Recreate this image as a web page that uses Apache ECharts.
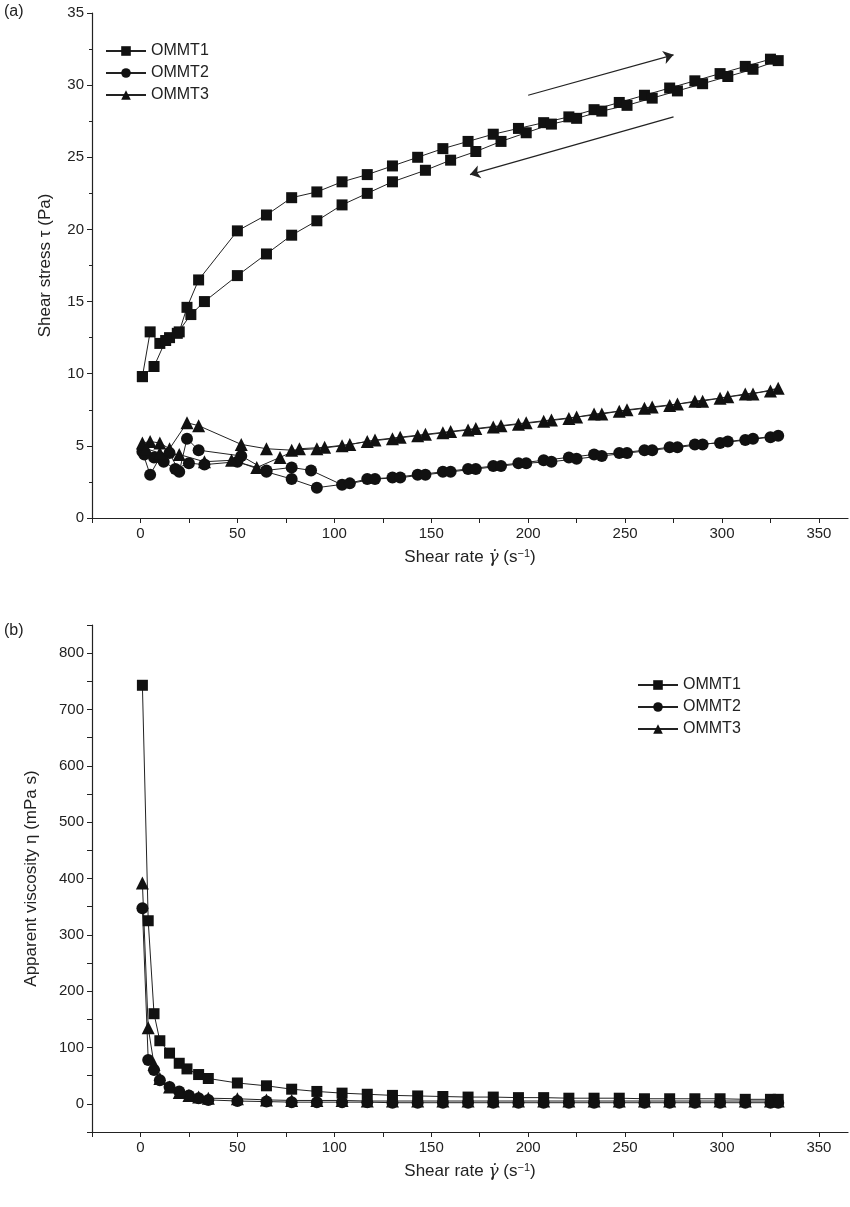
<!DOCTYPE html>
<html>
<head>
<meta charset="utf-8" />
<title></title>
<script src="https://cdn.jsdelivr.net/npm/echarts@6/dist/echarts.min.js"></script>
</head>
<body style="margin:0">
<div id="chart" style="width:850px;height:1207px;"></div>
<script>
var names = ['OMMT1', 'OMMT2', 'OMMT3'];
var symbols = ['rect', 'circle', 'triangle'];

// (a) shear stress, up sweep then down sweep
var stress1 = [[1,9.8],[5,12.9],[10,12.1],[15,12.5],[20,12.9],[24,14.6],[30,16.5],[50,19.9],[65,21],[78,22.2],[91,22.6],[104,23.3],[117,23.8],[130,24.4],[143,25],[156,25.6],[169,26.1],[182,26.6],[195,27],[208,27.4],[221,27.8],[234,28.3],[247,28.8],[260,29.3],[273,29.8],[286,30.3],[299,30.8],[312,31.3],[325,31.8],[329,31.7],
  [316,31.1],[303,30.6],[290,30.1],[277,29.6],[264,29.1],[251,28.6],[238,28.2],[225,27.7],[212,27.3],[199,26.7],[186,26.1],[173,25.4],[160,24.8],[147,24.1],[130,23.3],[117,22.5],[104,21.7],[91,20.6],[78,19.6],[65,18.3],[50,16.8],[33,15],[26,14.1],[19,12.8],[13,12.3],[7,10.5],[1,9.8]];
var stress2 = [[1,4.6],[5,3],[10,4.2],[15,4.5],[20,3.2],[24,5.5],[30,4.7],[52,4.3],[65,3.3],[78,3.5],[88,3.3],[104,2.3],[117,2.7],[130,2.8],[143,3],[156,3.2],[169,3.4],[182,3.6],[195,3.8],[208,4],[221,4.2],[234,4.4],[247,4.5],[260,4.7],[273,4.9],[286,5.1],[299,5.2],[312,5.4],[325,5.6],[329,5.7],
  [316,5.5],[303,5.3],[290,5.1],[277,4.9],[264,4.7],[251,4.5],[238,4.3],[225,4.1],[212,3.9],[199,3.8],[186,3.6],[173,3.4],[160,3.2],[147,3],[134,2.8],[121,2.7],[108,2.4],[91,2.1],[78,2.7],[65,3.2],[50,3.9],[33,3.7],[25,3.8],[18,3.4],[12,3.9],[7,4.2],[2,4.4]];
var stress3 = [[1,5.2],[5,5.3],[10,5.2],[15,4.8],[24,6.6],[30,6.4],[52,5.1],[65,4.8],[78,4.7],[91,4.8],[104,5],[117,5.3],[130,5.5],[143,5.7],[156,5.9],[169,6.1],[182,6.3],[195,6.5],[208,6.7],[221,6.9],[234,7.2],[247,7.4],[260,7.6],[273,7.8],[286,8.1],[299,8.3],[312,8.6],[325,8.8],[329,9],
  [316,8.6],[303,8.4],[290,8.1],[277,7.9],[264,7.7],[251,7.5],[238,7.2],[225,7],[212,6.8],[199,6.6],[186,6.4],[173,6.2],[160,6],[147,5.8],[134,5.6],[121,5.4],[108,5.1],[95,4.9],[82,4.8],[72,4.2],[60,3.5],[47,4],[33,3.9],[20,4.4],[10,4.5],[3,4.8]];

// (b) apparent viscosity
var visc1 = [[1,743],[4,325],[7,160],[10,112],[15,90],[20,72],[24,62],[30,52],[35,45],[50,37],[65,32],[78,26],[91,22],[104,19],[117,17],[130,15],[143,14],[156,13],[169,12],[182,12],[195,11],[208,11],[221,10],[234,10],[247,10],[260,9],[273,9],[286,9],[299,9],[312,8],[325,8],[329,8]];
var visc2 = [[1,347],[4,78],[7,60],[10,42],[15,30],[20,22],[25,15],[30,10],[35,7],[50,5],[65,4],[78,3],[91,3],[104,3],[117,3],[130,2],[143,2],[156,2],[169,2],[182,2],[195,2],[208,2],[221,2],[234,2],[247,2],[260,2],[273,2],[286,2],[299,2],[312,2],[325,2],[329,2]];
var visc3 = [[1,392],[4,135],[7,70],[10,45],[15,30],[20,20],[25,15],[30,12],[35,10],[50,9],[65,7],[78,6],[91,6],[104,6],[117,5],[130,5],[143,5],[156,5],[169,5],[182,5],[195,5],[208,5],[221,5],[234,5],[247,5],[260,5],[273,5],[286,5],[299,5],[312,5],[325,5],[329,5]];

var arrows = [[[200,29.3],[275,32.1]],[[275,27.8],[170,23.8]]];

var font = 'Liberation Sans, Arial, sans-serif';
var chart = echarts.init(document.getElementById('chart'));

function xAx(idx) {
  return {
    gridIndex: idx, type: 'value', min: -25, max: 365, interval: 25,
    name: '{n|Shear rate }{g|γ̇}{n| (s}{s|−1}{n|)}', nameLocation: 'middle', nameGap: 30,
    nameTextStyle: { rich: { n: {fontSize: 17, color: '#222', fontFamily: font}, g: {fontSize: 17, fontStyle: 'italic', color: '#222', fontFamily: 'DejaVu Serif'}, s: {fontSize: 11, verticalAlign: 'top', color: '#222', padding: [0,0,8,0]} } },
    axisLine: { onZero: false, lineStyle: { color: '#222', width: 1.2 } },
    axisTick: { inside: false, length: 5, lineStyle: { color: '#222' } },
    axisLabel: { fontSize: 15, color: '#222', fontFamily: font, showMaxLabel: false,
      formatter: function (v) { return (v < 0 || v % 50 !== 0) ? '' : v; } },
    splitLine: { show: false }
  };
}
function yAx(idx, min, max, interval, step, top, name) {
  return {
    gridIndex: idx, type: 'value', min: min, max: max, interval: interval,
    name: name, nameLocation: 'middle', nameGap: idx === 0 ? 38 : 52,
    nameTextStyle: { fontSize: 17, color: '#222', fontFamily: font },
    axisLine: { show: true, onZero: false, lineStyle: { color: '#222', width: 1.2 } },
    axisTick: { inside: false, length: 5, lineStyle: { color: '#222' } },
    minorTick: { show: idx === 0, splitNumber: 2, length: 3, lineStyle: { color: '#222' } },
    axisLabel: { fontSize: 15, color: '#222', fontFamily: font,
      formatter: function (v) { return (v < 0 || v > top || v % step !== 0) ? '' : v; } },
    splitLine: { show: false }
  };
}
function ser(name, sym, data, xi, size) {
  return {
    name: name, type: 'line', xAxisIndex: xi, yAxisIndex: xi, data: data,
    symbol: sym, symbolSize: size, showSymbol: true,
    itemStyle: { color: '#111' }, lineStyle: { color: '#222', width: 1 }
  };
}
var stress = [stress1, stress2, stress3];
var visc = [visc1, visc2, visc3];
var sizes = [11, 12, 13];
var series = [];
for (var i = 0; i < 3; i++) series.push(ser(names[i], symbols[i], stress[i], 0, sizes[i]));
for (var i = 0; i < 3; i++) series.push(ser(names[i], symbols[i], visc[i], 1, sizes[i]));
series.push({
  type: 'line', xAxisIndex: 0, yAxisIndex: 0, data: [], silent: true,
  markLine: {
    symbol: ['none', 'arrow'], symbolSize: 10, label: { show: false },
    lineStyle: { color: '#222', width: 1.2, type: 'solid' },
    data: arrows.map(function (a) { return [{ coord: a[0] }, { coord: a[1] }]; })
  }
});

chart.setOption({
  animation: false,
  backgroundColor: '#fff',
  graphic: [
    { type: 'text', left: 4, top: 4, style: { text: '(a)', fontSize: 16, fill: '#222', fontFamily: font } },
    { type: 'text', left: 4, top: 623, style: { text: '(b)', fontSize: 16, fill: '#222', fontFamily: font } }
  ],
  legend: [
    { data: names, left: 100, top: 38, orient: 'vertical', itemGap: 6, itemWidth: 40, itemHeight: 12,
      textStyle: { fontSize: 16, color: '#222', fontFamily: font } },
    { data: names, left: 632, top: 672, orient: 'vertical', itemGap: 6, itemWidth: 40, itemHeight: 12,
      textStyle: { fontSize: 16, color: '#222', fontFamily: font } }
  ],
  grid: [
    { left: 92, right: 2, top: 13, height: 505 },
    { left: 92, right: 2, top: 625, height: 507 }
  ],
  xAxis: [xAx(0), xAx(1)],
  yAxis: [yAx(0, 0, 35, 5, 5, 35, 'Shear stress τ (Pa)'), yAx(1, -50, 850, 50, 100, 800, 'Apparent viscosity η (mPa s)')],
  series: series
});
</script>
</body>
</html>
